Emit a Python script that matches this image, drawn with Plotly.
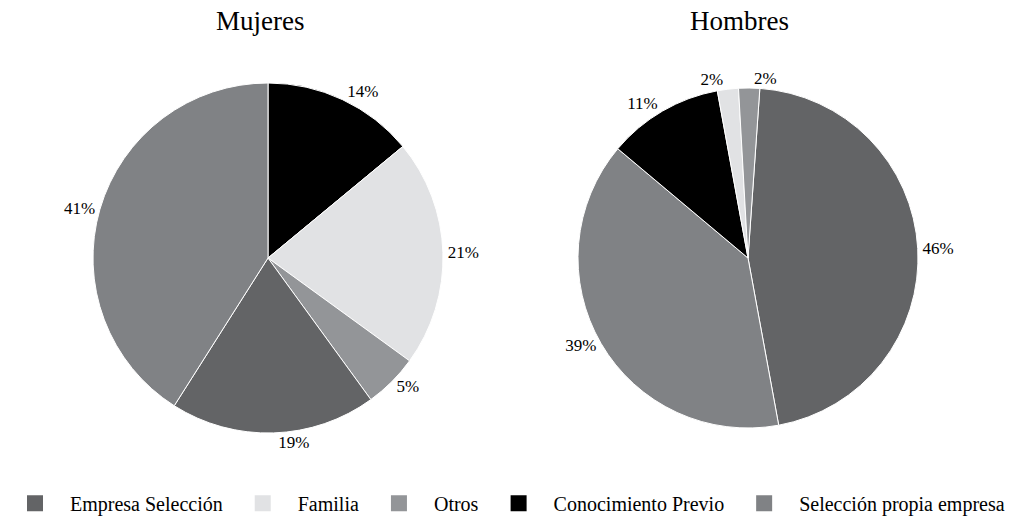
import plotly.graph_objects as go

# Categories (legend order) and colours
categories = ["Empresa Selección", "Familia", "Otros", "Conocimiento Previo", "Selección propia empresa"]
colors = {
    "Empresa Selección": "#636466",
    "Familia": "#e1e2e4",
    "Otros": "#939598",
    "Conocimiento Previo": "#000000",
    "Selección propia empresa": "#808285",
}

# Mujeres (clockwise from 12 o'clock)
mujeres_labels = ["Conocimiento Previo", "Familia", "Otros", "Empresa Selección", "Selección propia empresa"]
mujeres_values = [14, 21, 5, 19, 41]

# Hombres (clockwise, starting slightly right of 12 o'clock)
hombres_labels = ["Empresa Selección", "Selección propia empresa", "Conocimiento Previo", "Familia", "Otros"]
hombres_values = [46, 39, 11, 2, 2]

FONT = "Liberation Serif"

fig = go.Figure()

W, H = 1028, 528

def dom(x0, x1, ytop, ybot):
    return dict(x=[x0 / W, x1 / W], y=[(H - ybot) / H, (H - ytop) / H])

fig.add_trace(go.Pie(
    labels=mujeres_labels, values=mujeres_values, sort=False,
    direction="clockwise", rotation=0,
    marker=dict(colors=[colors[l] for l in mujeres_labels], line=dict(color="white", width=1)),
    texttemplate="%{value}%", textposition="outside",
    textfont=dict(family=FONT, size=17, color="black"),
    domain=dom(93, 443, 83, 433), showlegend=False, hoverinfo="label+percent",
))

fig.add_trace(go.Pie(
    labels=hombres_labels, values=hombres_values, sort=False,
    direction="clockwise", rotation=4,
    marker=dict(colors=[colors[l] for l in hombres_labels], line=dict(color="white", width=1)),
    texttemplate="%{value}%", textposition="outside",
    textfont=dict(family=FONT, size=17, color="black"),
    domain=dom(578, 918, 88, 428), showlegend=False, hoverinfo="label+percent",
))

# Legend entries
for c in categories:
    fig.add_trace(go.Scatter(
        x=[None], y=[None], mode="markers", name=c,
        marker=dict(symbol="square", size=16, color=colors[c]),
        showlegend=True, hoverinfo="skip",
    ))

fig.update_layout(
    width=W, height=H,
    margin=dict(l=0, r=0, t=0, b=0),
    paper_bgcolor="white", plot_bgcolor="white",
    font=dict(family=FONT, color="black"),
    xaxis=dict(visible=False), yaxis=dict(visible=False),
    legend=dict(
        orientation="h", x=0.0, xanchor="left", y=0.01, yanchor="bottom",
        font=dict(family=FONT, size=20, color="black"),
        itemwidth=60, bgcolor="rgba(0,0,0,0)",
    ),
    annotations=[
        dict(text="Mujeres", x=260 / W, y=1 - 21 / H, xref="paper", yref="paper",
             xanchor="center", yanchor="middle",
             showarrow=False, font=dict(family=FONT, size=27, color="black")),
        dict(text="Hombres", x=739 / W, y=1 - 21 / H, xref="paper", yref="paper",
             xanchor="center", yanchor="middle",
             showarrow=False, font=dict(family=FONT, size=27, color="black")),
    ],
)

fig.write_html("out.html", config={"displayModeBar": False},
               post_script="document.body.style.margin='0';document.body.style.padding='0';")
